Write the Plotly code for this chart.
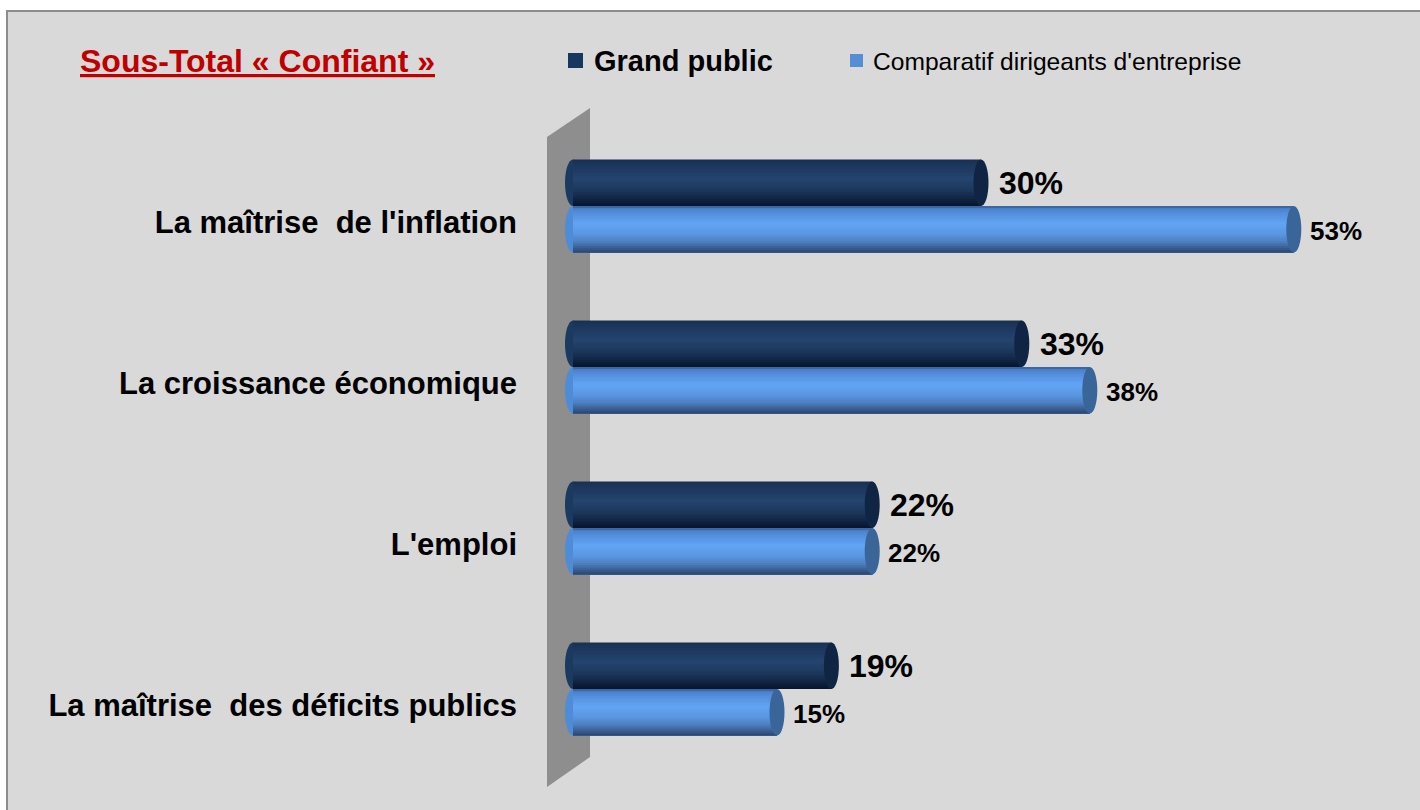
import plotly.graph_objects as go

# ---------------- data ----------------
categories = ["La maîtrise  de l'inflation", "La croissance économique", "L'emploi",
              "La maîtrise  des déficits publics"]
grand_public = [30, 33, 22, 19]
dirigeants = [53, 38, 22, 15]
series_names = ["Grand public", "Comparatif dirigeants d'entreprise"]
title_text = "Sous-Total « Confiant »"

# ---------------- geometry (pixels) ----------------
W, H = 1420, 810
L_MARGIN = 547
PX_PER_UNIT = 13.6
ZERO_PX = 573
Y0_PX = 206
CAT_PX = 161
x_range = [(L_MARGIN - ZERO_PX) / PX_PER_UNIT, (W - ZERO_PX) / PX_PER_UNIT]
y_range = [(H - Y0_PX) / CAT_PX, (0 - Y0_PX) / CAT_PX]  # reversed
BAR_T = 46.5 / CAT_PX
pos = list(range(len(categories)))


def px_x(p):
    return (p - L_MARGIN) / (W - L_MARGIN)


def px_y(p):
    return 1 - p / H


def hex2rgb(h):
    h = h.lstrip('#')
    return tuple(int(h[i:i + 2], 16) for i in (0, 2, 4))


def interp(profile, t):
    for (t0, c0), (t1, c1) in zip(profile, profile[1:]):
        if t0 <= t <= t1:
            f = 0 if t1 == t0 else (t - t0) / (t1 - t0)
            a, b = hex2rgb(c0), hex2rgb(c1)
            return 'rgb(%d,%d,%d)' % tuple(round(a[i] + (b[i] - a[i]) * f) for i in range(3))
    return profile[-1][1]


dark_profile = [(0.0, '#192f50'), (0.08, '#1b355a'), (0.42, '#24446f'),
                (0.68, '#1b3659'), (0.86, '#0f2340'), (1.0, '#08142a')]
light_profile = [(0.0, '#34598c'), (0.08, '#4e87d2'), (0.38, '#62a4f4'),
                 (0.6, '#5a97e2'), (0.78, '#4b7dbd'), (0.9, '#3a5f92'), (1.0, '#2a4468')]

fig = go.Figure()
N = 20
for s_idx, (vals, prof) in enumerate([(grand_public, dark_profile), (dirigeants, light_profile)]):
    start = -BAR_T if s_idx == 0 else 0.0
    for k in range(N):
        t = (k + 0.5) / N
        fig.add_trace(go.Bar(
            x=vals, y=pos, orientation='h',
            offset=start + k * BAR_T / N, width=BAR_T - k * BAR_T / N,
            marker=dict(color=interp(prof, t), line=dict(width=0)),
            showlegend=False, hoverinfo='skip'))

shapes = []
# chart background + border
shapes.append(dict(type='rect', xref='paper', yref='paper', layer='below',
                   x0=px_x(7), x1=px_x(W + 30), y0=px_y(11), y1=px_y(H + 30),
                   fillcolor='#d9d9d9', line=dict(color='#8c8c8c', width=2)))
# 3D wall
wall = [(547, 137), (590, 108), (590, 757), (547, 787)]
path = 'M ' + ' L '.join('%f,%f' % (px_x(a), px_y(b)) for a, b in wall) + ' Z'
shapes.append(dict(type='path', xref='paper', yref='paper', layer='below', path=path,
                   fillcolor='#8e8e8e', line=dict(width=0)))

cap_hw = 7.5 / PX_PER_UNIT
left_hw = 8 / PX_PER_UNIT
for s_idx, (vals, mid, capc) in enumerate([(grand_public, '#1c3960', '#0f2543'),
                                           (dirigeants, '#4f8cd8', '#3a6599')]):
    for i, v in enumerate(vals):
        y0 = i - BAR_T if s_idx == 0 else i
        y1 = i if s_idx == 0 else i + BAR_T
        # rounded left end
        shapes.append(dict(type='circle', xref='x', yref='y', layer='below',
                           x0=-left_hw, x1=left_hw, y0=y0, y1=y1,
                           fillcolor=mid, line=dict(width=0)))
        # end cap
        shapes.append(dict(type='circle', xref='x', yref='y', layer='above',
                           x0=v - cap_hw, x1=v + cap_hw, y0=y0, y1=y1,
                           fillcolor=capc, line=dict(width=0)))

# legend swatches
shapes.append(dict(type='rect', xref='paper', yref='paper', x0=px_x(568), x1=px_x(583),
                   y0=px_y(68), y1=px_y(53), fillcolor='#17375e', line=dict(width=0)))
shapes.append(dict(type='rect', xref='paper', yref='paper', x0=px_x(850), x1=px_x(863),
                   y0=px_y(67), y1=px_y(54), fillcolor='#558ed5', line=dict(width=0)))

FONT = 'Arial, Liberation Sans, sans-serif'
annotations = []
for i, v in enumerate(grand_public):
    annotations.append(dict(x=v, y=i - BAR_T / 2, xref='x', yref='y', xanchor='left',
                            yanchor='middle', xshift=16, showarrow=False,
                            text='<b>%d%%</b>' % v, font=dict(family=FONT, size=32, color='black')))
for i, v in enumerate(dirigeants):
    annotations.append(dict(x=v, y=i + BAR_T / 2, xref='x', yref='y', xanchor='left',
                            yanchor='middle', xshift=14, yshift=-2, showarrow=False,
                            text='<b>%d%%</b>' % v, font=dict(family=FONT, size=26, color='black')))
annotations.append(dict(x=px_x(78), y=px_y(61), xref='paper', yref='paper', xanchor='left',
                        yanchor='middle', showarrow=False,
                        text='<u><b>%s</b></u>' % title_text,
                        font=dict(family=FONT, size=32, color='#c00000')))
annotations.append(dict(x=px_x(592), y=px_y(61), xref='paper', yref='paper', xanchor='left',
                        yanchor='middle', showarrow=False, text='<b>%s</b>' % series_names[0],
                        font=dict(family=FONT, size=29, color='black')))
annotations.append(dict(x=px_x(871), y=px_y(62), xref='paper', yref='paper', xanchor='left',
                        yanchor='middle', showarrow=False, text=series_names[1],
                        font=dict(family=FONT, size=24.6, color='black')))

fig.update_layout(
    width=W, height=H, barmode='overlay',
    margin=dict(l=L_MARGIN, r=0, t=0, b=0, pad=0),
    paper_bgcolor='white', plot_bgcolor='rgba(0,0,0,0)',
    xaxis=dict(range=x_range, visible=False, fixedrange=True),
    yaxis=dict(range=y_range, tickmode='array',
               tickvals=[p + 16 / CAT_PX for p in pos],
               ticktext=['<b>%s</b>' % c for c in categories],
               tickfont=dict(family=FONT, size=31, color='black'),
               ticks='', showgrid=False, zeroline=False, showline=False,
               ticklabelstandoff=29, automargin=False, fixedrange=True),
    shapes=shapes, annotations=annotations, showlegend=False,
)
fig.write_html('out.html', config={'displayModeBar': False},
               post_script="document.body.style.margin='0';document.body.style.overflow='hidden';")
